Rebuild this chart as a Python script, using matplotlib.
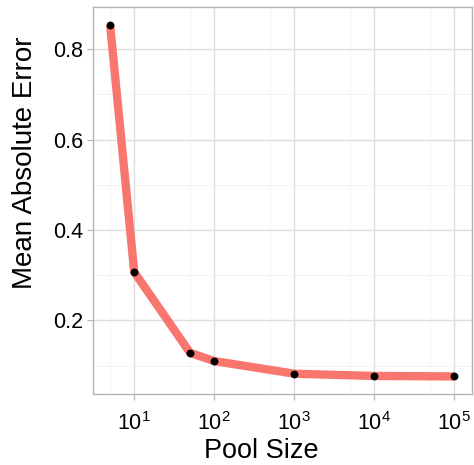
import numpy as np
import matplotlib
matplotlib.use('Agg')
import matplotlib.pyplot as plt
from matplotlib.ticker import FixedLocator, FuncFormatter

plt.rcParams['font.family'] = ['Liberation Sans', 'DejaVu Sans']
plt.rcParams['mathtext.fontset'] = 'custom'
plt.rcParams['mathtext.rm'] = 'Liberation Sans'
plt.rcParams['mathtext.it'] = 'Liberation Sans:italic'

# Data
pool_size = [5, 10, 50, 100, 1000, 10000, 100000]
mae = [0.854, 0.307, 0.128, 0.110, 0.082, 0.077, 0.076]

x_major = [10, 100, 1000, 10000, 100000]
x_minor = [5, 50, 500, 5000, 50000]
y_major = [0.2, 0.4, 0.6, 0.8]
y_minor = [0.1, 0.3, 0.5, 0.7]

fig = plt.figure(figsize=(4.74, 4.65), dpi=100)
ax = fig.add_axes([0.196, 0.1527, 0.799, 0.8316])

ax.plot(pool_size, mae, color='#F8766D', linewidth=6, solid_capstyle='butt', zorder=3)
ax.scatter(pool_size, mae, color='black', s=32, zorder=4, linewidths=0)

ax.set_xscale('log')
lx = np.log10(pool_size)
pad = 0.05 * (lx.max() - lx.min())
ax.set_xlim(10 ** (lx.min() - pad), 10 ** (lx.max() + pad))
pad_y = 0.05 * (max(mae) - min(mae))
ax.set_ylim(min(mae) - pad_y, max(mae) + pad_y)

ax.xaxis.set_major_locator(FixedLocator(x_major))
ax.xaxis.set_minor_locator(FixedLocator(x_minor))
ax.xaxis.set_major_formatter(FuncFormatter(lambda v, p: r'$10^{%d}$' % round(np.log10(v))))
ax.xaxis.set_minor_formatter(FuncFormatter(lambda v, p: ''))
ax.yaxis.set_major_locator(FixedLocator(y_major))
ax.yaxis.set_minor_locator(FixedLocator(y_minor))
ax.yaxis.set_major_formatter(FuncFormatter(lambda v, p: f'{v:.1f}'))

ax.grid(True, which='major', color='#dedede', linewidth=1.0)
ax.grid(True, which='minor', color='#f1f1f1', linewidth=0.6)
ax.set_axisbelow(True)

for s in ax.spines.values():
    s.set_color('#b3b3b3')
    s.set_linewidth(1.0)

ax.tick_params(which='major', length=4, color='#b3b3b3', labelsize=15.5, labelcolor='black')
ax.tick_params(axis='x', which='major', pad=9)
ax.tick_params(axis='y', which='major', pad=3)
ax.tick_params(which='minor', length=0)

ax.set_xlabel('Pool Size', fontsize=19.5)
ax.set_ylabel('Mean Absolute Error', fontsize=20)
ax.xaxis.set_label_coords(0.445, -0.114)
ax.yaxis.set_label_coords(-0.144, 0.597)

fig.savefig('out.png', dpi=100)
